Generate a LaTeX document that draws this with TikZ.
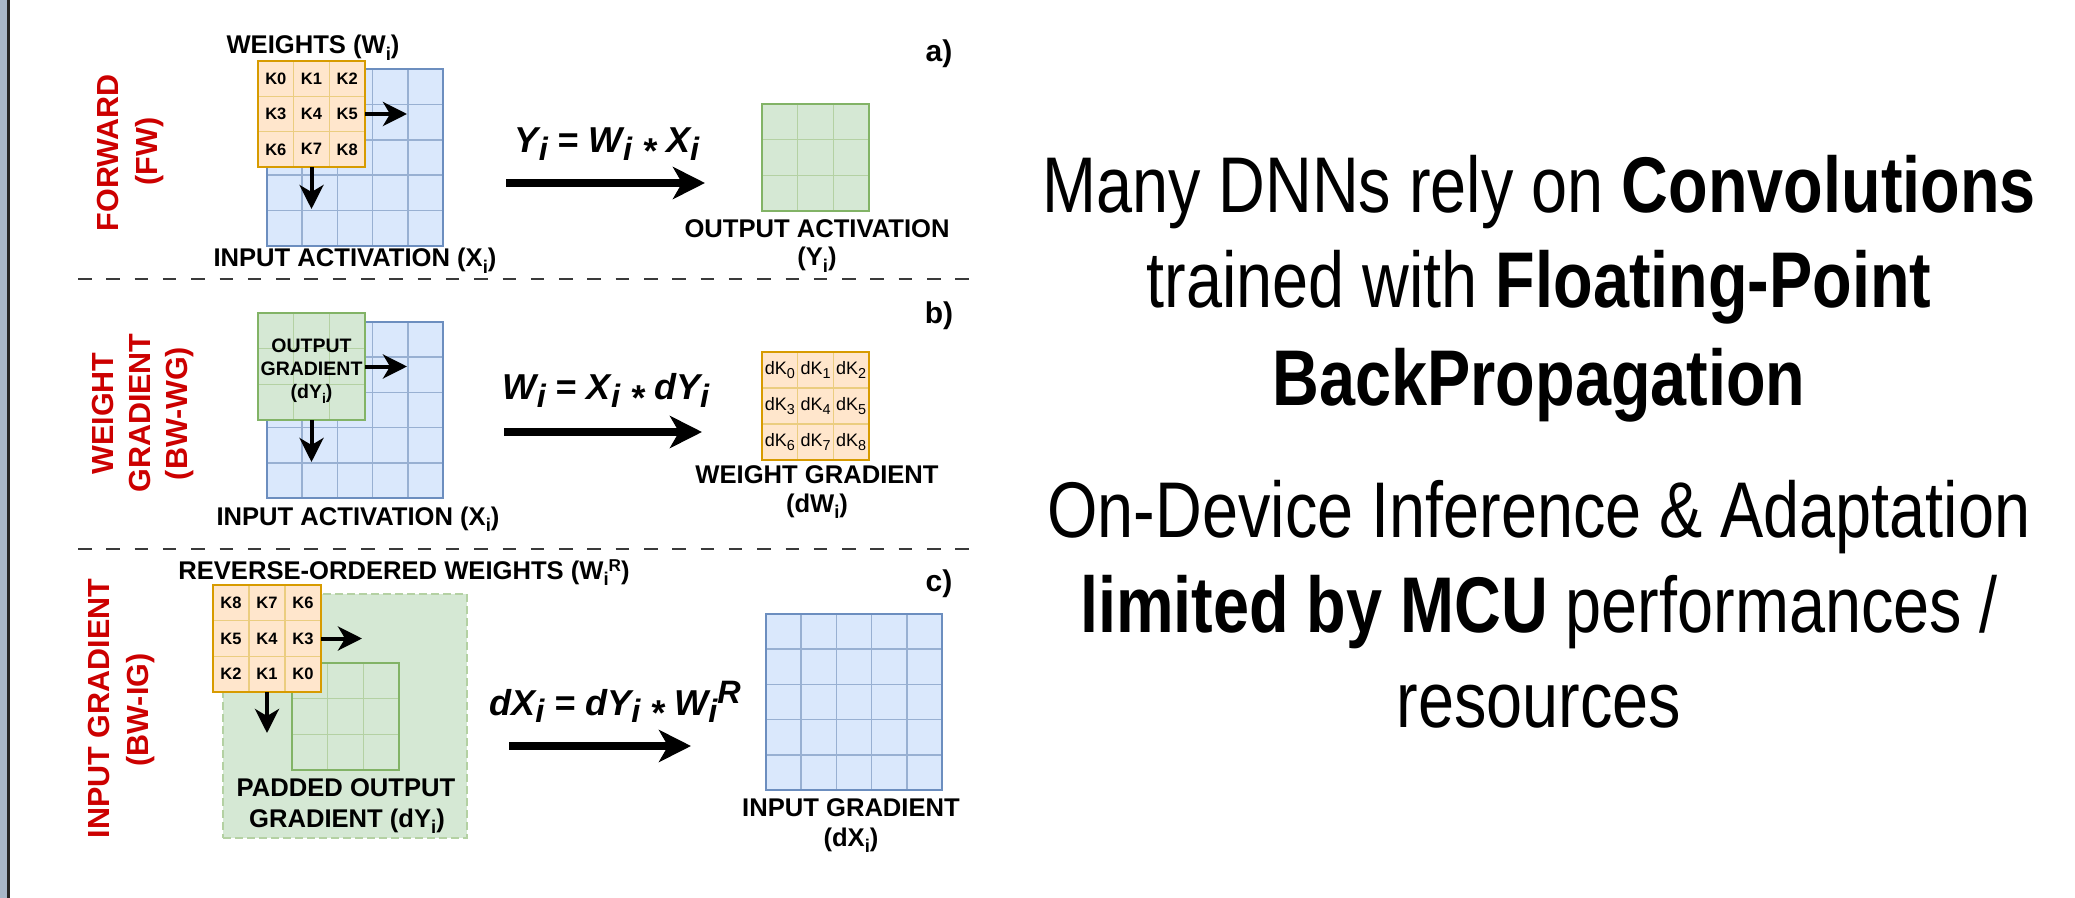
\documentclass[tikz,border=0pt]{standalone}
\usepackage{fontspec}
\setmainfont{Liberation Sans}
\newfontfamily\narrowfont[FakeStretch=0.82]{Liberation Sans}
\usetikzlibrary{arrows.meta,calc}

\definecolor{bluefill}{HTML}{DAE8FC}
\definecolor{bluestroke}{HTML}{6C8EBF}
\definecolor{greenfill}{HTML}{D5E8D4}
\definecolor{greenstroke}{HTML}{82B366}
\definecolor{orangefill}{HTML}{FFE6CC}
\definecolor{orangestroke}{HTML}{D79B00}
\definecolor{phasered}{HTML}{CC0000}
\definecolor{sidebar}{HTML}{A8B7C9}
\definecolor{sepgray}{HTML}{3A3A3A}

% lowered and raised indices in labels
\newcommand\lo[2][0.72]{\raisebox{-0.24em}{\scalebox{#1}{#2}}}
\newcommand\hi[2][0.67]{\raisebox{0.28em}{\scalebox{#1}{#2}}}
% indices in the formulas
\newcommand\elo[1]{\raisebox{-0.2em}{\scalebox{0.9}{#1}}}
\newcommand\ehi[1]{\raisebox{0.33em}{\scalebox{0.9}{#1}}}
\newcommand\conv{\raisebox{-0.29em}{*}}

% inner lines and outer border of a square matrix node
\newcommand\cellgrid[4]{%
  \pgfmathtruncatemacro\lastcut{#2-1}%
  \foreach \j in {1,...,\lastcut}{%
    \draw[#3, line width=0.8pt]
      ($(#1.north west)!\j/#2!(#1.north east)$) -- ($(#1.south west)!\j/#2!(#1.south east)$)
      ($(#1.north west)!\j/#2!(#1.south west)$) -- ($(#1.north east)!\j/#2!(#1.south east)$);
  }%
  \draw[#4, line width=1.25pt] (#1.north west) rectangle (#1.south east);
}

% entries of a 3x3 kernel
\newcommand\klab[1]{K#1}
\newcommand\dklab[1]{dK\lo[0.8]{#1}}
\newcommand\celllabels[8]{% prefix, left, top, cell w, cell h, style, digits, format
  \foreach \d [count=\n from 0] in {#7}{%
    \pgfmathsetmacro\cx{#2+(mod(\n,3)+0.5)*#4}%
    \pgfmathsetmacro\cy{#3+(floor(\n/3)+0.5)*#5}%
    \node[#6] (#1-\n) at (\cx,\cy) {#8{\d}};
  }}

\begin{document}
\begin{tikzpicture}[x=0.5pt,y=-0.5pt,
  gridnode/.style={rectangle, inner sep=0pt, outer sep=0pt, draw=none},
  lbl/.style={font=\fontsize{12.8}{15}\selectfont\bfseries, inner sep=0pt, anchor=base},
  dylbl/.style={font=\fontsize{9.75}{12}\selectfont\bfseries, inner sep=0pt, anchor=base},
  klbl/.style={font=\fontsize{8.25}{10}\selectfont\bfseries, inner sep=0pt},
  dklbl/.style={font=\fontsize{9}{10}\selectfont, inner sep=0pt},
  eqn/.style={font=\fontsize{18}{20}\selectfont\bfseries\itshape, inner sep=0pt, anchor=base},
  tag/.style={font=\fontsize{15}{17}\selectfont\bfseries, inner sep=0pt, anchor=base},
  phase/.style={font=\fontsize{15.25}{18}\selectfont\bfseries, text=phasered, inner sep=0pt, anchor=base, rotate=90},
  slide/.style={font=\narrowfont\fontsize{39.5}{47}\selectfont, inner sep=0pt, anchor=base},
  smallarrow/.style={line width=2pt, -{Stealth[length=12pt,width=12pt,inset=3.5pt]}},
  bigarrow/.style={line width=4.25pt, -{Stealth[length=16pt,width=16pt,inset=4.5pt]}},
  sepline/.style={draw=sepgray, line width=1pt, dash pattern=on 6.75pt off 7.4pt}]

\fill[white] (0,0) rectangle (2075,898);
\useasboundingbox (0,0) rectangle (2075,898);

% window edge on the left
\fill[sidebar] (0,0) rectangle (7,898);
\draw[black!85, line width=1.25pt] (8.3,0) -- (8.3,898);

% ---------------- a) forward ----------------
\node[phase] (phA1) at (118,152.5) {FORWARD};
\node[phase] (phA2) at (157,151.5) {(FW)};

\node[gridnode, fill=bluefill, minimum width=88pt, minimum height=88.5pt] (inA) at (355,157.5) {};
\cellgrid{inA}{5}{bluestroke!70}{bluestroke}
\node[gridnode, fill=orangefill, minimum width=53.5pt, minimum height=53pt] (kA) at (311.5,114) {};
\cellgrid{kA}{3}{orangestroke!50}{orangestroke}
\celllabels{kA}{258}{61}{35.67}{35.33}{klbl}{0,1,2,3,4,5,6,7,8}{\klab}
\coordinate (kAr) at (407,114);
\coordinate (kAd) at (311.5,209);
\draw[smallarrow] (kA.east) -- (kAr);
\draw[smallarrow] (kA.south) -- (kAd);

\node[lbl] (wA) at (313,54) {WEIGHTS (W\lo{i})};
\node[lbl] (inAlab) at (355,267) {INPUT ACTIVATION (X\lo{i})};

\node[eqn] (eqA) at (607,153) {Y\elo{i} = W\elo{i} \conv{} X\elo{i}};
\coordinate (aS) at (506,183);
\coordinate (aE) at (705,183);
\draw[bigarrow] (aS) -- (aE);

\node[gridnode, fill=greenfill, minimum width=53.5pt, minimum height=53.5pt] (outA) at (815.5,157.5) {};
\cellgrid{outA}{3}{greenstroke!60}{greenstroke}
\node[lbl] (outAlab1) at (817,238) {OUTPUT ACTIVATION};
\node[lbl] (outAlab2) at (817,266) {(Y\lo{i})};

\node[tag] (tagA) at (939,61.5) {a)};

\draw[sepline] (78,279) -- (983,279);

% ---------------- b) weight gradient ----------------
\node[phase] (phB1) at (113,413.5) {WEIGHT};
\node[phase] (phB2) at (150,413) {GRADIENT};
\node[phase] (phB3) at (187,413.5) {(BW-WG)};

\node[gridnode, fill=bluefill, minimum width=88pt, minimum height=88pt] (inB) at (355,410) {};
\cellgrid{inB}{5}{bluestroke!70}{bluestroke}
\node[gridnode, fill=greenfill, minimum width=53.5pt, minimum height=53.5pt] (dYB) at (311.5,366.5) {};
\cellgrid{dYB}{3}{greenstroke!60}{greenstroke}
\node[dylbl] (dYB1) at (311.5,352) {OUTPUT};
\node[dylbl] (dYB2) at (311.5,375.5) {GRADIENT};
\node[dylbl] (dYB3) at (311.5,398.5) {(dY\lo{i})};
\coordinate (dYBr) at (407,366.5);
\coordinate (dYBd) at (311.5,462);
\draw[smallarrow] (dYB.east) -- (dYBr);
\draw[smallarrow] (dYB.south) -- (dYBd);

\node[lbl] (inBlab) at (358,525) {INPUT ACTIVATION (X\lo{i})};

\node[eqn] (eqB) at (606,400) {W\elo{i} = X\elo{i} \conv{} dY\elo{i}};
\coordinate (bS) at (504,432);
\coordinate (bE) at (702,432);
\draw[bigarrow] (bS) -- (bE);

\node[gridnode, fill=orangefill, minimum width=53.5pt, minimum height=54pt] (dW) at (815.5,406) {};
\cellgrid{dW}{3}{orangestroke!50}{orangestroke}
\celllabels{dW}{762}{352}{35.67}{36}{dklbl}{0,1,2,3,4,5,6,7,8}{\dklab}
\node[lbl] (dWlab1) at (817,483) {WEIGHT GRADIENT};
\node[lbl] (dWlab2) at (817,512.5) {(dW\lo{i})};

\node[tag] (tagB) at (939,323.5) {b)};

\draw[sepline] (78,549) -- (983,549);

% ---------------- c) input gradient ----------------
\node[phase] (phC1) at (109,708.5) {INPUT GRADIENT};
\node[phase] (phC2) at (148,710) {(BW-IG)};

\node[lbl] (wC) at (404,579) {REVERSE-ORDERED WEIGHTS (W\lo{i}\hi{R})};

\node[gridnode, fill=greenfill, draw=greenstroke!60, line width=0.75pt,
      dash pattern=on 4pt off 2pt, minimum width=122pt, minimum height=122pt] (pad) at (345,716) {};
\node[gridnode, fill=greenfill, minimum width=53.5pt, minimum height=53.5pt] (dYC) at (345.5,716.5) {};
\cellgrid{dYC}{3}{greenstroke!60}{greenstroke}
\node[gridnode, fill=orangefill, minimum width=54pt, minimum height=53.5pt] (kC) at (267,638.5) {};
\cellgrid{kC}{3}{orangestroke!50}{orangestroke}
\celllabels{kC}{213}{585}{36}{35.67}{klbl}{8,7,6,5,4,3,2,1,0}{\klab}
\coordinate (kCr) at (362,638.5);
\coordinate (kCd) at (267,733);
\draw[smallarrow] (kC.east) -- (kCr);
\draw[smallarrow] (kC.south) -- (kCd);

\node[lbl] (padlab1) at (346,796) {PADDED OUTPUT};
\node[lbl] (padlab2) at (347,827) {GRADIENT (dY\lo{i})};

\node[eqn] (eqC) at (615,715) {dX\elo{i} = dY\elo{i} \conv{} W\elo{i}\ehi{R}};
\coordinate (cS) at (509,746);
\coordinate (cE) at (691,746);
\draw[bigarrow] (cS) -- (cE);

\node[gridnode, fill=bluefill, minimum width=88pt, minimum height=88pt] (dX) at (854,702) {};
\cellgrid{dX}{5}{bluestroke!70}{bluestroke}
\node[lbl] (dXlab1) at (851,816) {INPUT GRADIENT};
\node[lbl] (dXlab2) at (851,846.5) {(dX\lo{i})};

\node[tag] (tagC) at (939,591.5) {c)};

% ---------------- statement on the right ----------------
\node[slide] (m1) at (1539,213) {Many DNNs rely on \textbf{Convolutions}};
\node[slide] (m2) at (1539,308) {trained with \textbf{Floating-Point}};
\node[slide] (m3) at (1539,405) {\textbf{BackPropagation}};
\node[slide] (m4) at (1539,537) {On-Device Inference \& Adaptation};
\node[slide] (m5) at (1539,632) {\textbf{limited by MCU} performances /};
\node[slide] (m6) at (1539,727) {resources};

\end{tikzpicture}
\end{document}
